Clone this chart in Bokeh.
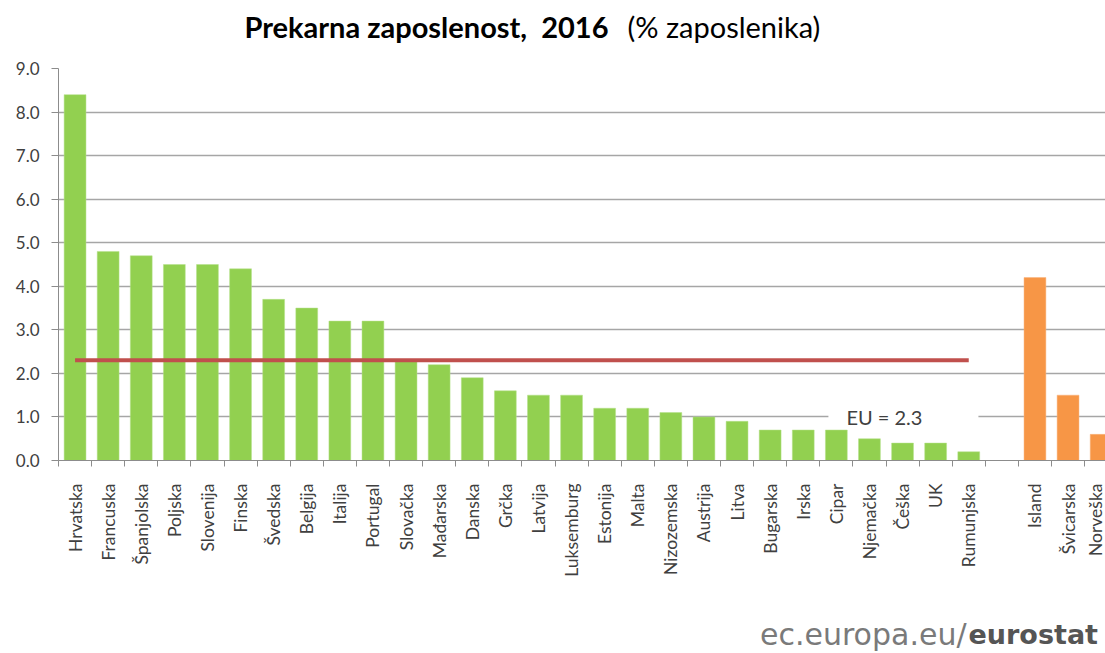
import math
from bokeh.plotting import figure
from bokeh.layouts import column
from bokeh.models import Range1d, FixedTicker, Label, NumeralTickFormatter
from bokeh.embed import file_html
from bokeh.resources import INLINE

# ---- data ----
eu_countries = ["Hrvatska", "Francuska", "Španjolska", "Poljska", "Slovenija", "Finska",
                "Švedska", "Belgija", "Italija", "Portugal", "Slovačka", "Mađarska",
                "Danska", "Grčka", "Latvija", "Luksemburg", "Estonija", "Malta",
                "Nizozemska", "Austrija", "Litva", "Bugarska", "Irska", "Cipar",
                "Njemačka", "Češka", "UK", "Rumunjska"]
eu_values = [8.4, 4.8, 4.7, 4.5, 4.5, 4.4, 3.7, 3.5, 3.2, 3.2, 2.3, 2.2, 1.9, 1.6,
             1.5, 1.5, 1.2, 1.2, 1.1, 1.0, 0.9, 0.7, 0.7, 0.7, 0.5, 0.4, 0.4, 0.2]
efta_countries = ["Island", "Švicarska", "Norveška"]
efta_values = [4.2, 1.5, 0.6]
eu_average = 2.3
y_ticks = [0, 1, 2, 3, 4, 5, 6, 7, 8, 9]

# category slot positions (one empty slot between the two groups)
eu_x = [i + 0.5 for i in range(len(eu_countries))]
efta_x = [len(eu_countries) + 1 + i + 0.5 for i in range(len(efta_countries))]
n_slots = len(eu_countries) + 1 + len(efta_countries)

GREEN = "#92D050"
ORANGE = "#F79646"
RED = "#C0504D"
GRID = "#A6A6A6"
TXT = "#404040"

W = 1105
TITLE_H, MAIN_H, FOOT_H = 50, 550, 53
LEFT = 58
slot_px = 33.1
frame_w = W - LEFT


def blank_fig(h):
    # frames in a column are aligned with the main plot's frame (LEFT .. W)
    f = figure(width=W, height=h, output_backend="svg", toolbar_location=None,
               x_range=Range1d(LEFT, W), y_range=Range1d(0, h),
               x_axis_location=None, y_axis_location=None,
               min_border=0, min_border_left=LEFT, title=None)
    f.outline_line_color = None
    f.grid.visible = False
    return f


# ---- title ----
t = blank_fig(TITLE_H)
t.add_layout(Label(x=608, y=TITLE_H - 26, text="Prekarna zaposlenost,\u00a0 2016",
                   text_align="right", text_baseline="middle",
                   text_font="Lato", text_font_style="bold", text_font_size="29px",
                   text_color="black"))
t.add_layout(Label(x=627, y=TITLE_H - 26, text="(% zaposlenika)",
                   text_align="left", text_baseline="middle",
                   text_font="Lato", text_font_size="29px", text_color="black"))

# ---- main chart ----
p = figure(width=W, height=MAIN_H, output_backend="svg", toolbar_location=None,
           x_range=Range1d(0, frame_w / slot_px), y_range=Range1d(0, 9),
           min_border_left=LEFT, min_border_right=0, min_border_top=68 - TITLE_H,
           min_border_bottom=MAIN_H - (460 - TITLE_H), title=None)
p.outline_line_color = None

p.vbar(x=eu_x, top=eu_values, width=0.66, color=GREEN, line_color="#B5E08A", line_width=0.5)
p.vbar(x=efta_x, top=efta_values, width=0.66, color=ORANGE, line_color="#F9B27C", line_width=0.5)
p.line(x=[eu_x[0], eu_x[-1]], y=[eu_average, eu_average], line_color=RED, line_width=4)

# y axis
p.yaxis.ticker = FixedTicker(ticks=y_ticks)
p.yaxis.formatter = NumeralTickFormatter(format="0.0")
p.yaxis.axis_line_color = "#8C8C8C"
p.yaxis.major_tick_line_color = "#8C8C8C"
p.yaxis.major_tick_out = 7
p.yaxis.major_tick_in = 0
p.yaxis.minor_tick_line_color = None
p.yaxis.major_label_standoff = 12
p.yaxis.major_label_text_font = "Lato"
p.yaxis.major_label_text_font_size = "17px"
p.yaxis.major_label_text_color = TXT
p.ygrid.grid_line_color = GRID
p.ygrid.grid_line_width = 1.5

# x axis
all_x = eu_x + efta_x
all_names = eu_countries + efta_countries
p.xaxis.ticker = FixedTicker(ticks=all_x, minor_ticks=list(range(0, n_slots + 1)))
p.xaxis.major_label_overrides = {x: n for x, n in zip(all_x, all_names)}
p.xaxis.major_label_orientation = math.pi / 2
p.xaxis.major_tick_line_color = None
p.xaxis.minor_tick_line_color = "#8C8C8C"
p.xaxis.minor_tick_out = 6
p.xaxis.minor_tick_in = 0
p.xaxis.axis_line_color = "#8C8C8C"
p.xaxis.major_label_standoff = 17
p.xaxis.major_label_text_font = "Lato"
p.xaxis.major_label_text_font_size = "17.5px"
p.xaxis.major_label_text_color = TXT
p.xgrid.grid_line_color = None

# EU label with white box interrupting the gridline
p.add_layout(Label(x=23.26, y=1.0, text="EU = 2.3", text_align="left", text_baseline="middle",
                   text_font="Lato", text_font_size="20px", text_color=TXT,
                   text_line_height=1.0, background_fill_color="white",
                   padding=dict(left=18, right=56, top=0, bottom=0)))

# ---- footer ----
f = blank_fig(FOOT_H)
f.add_layout(Label(x=966, y=FOOT_H - 34, text="ec.europa.eu/", text_align="right",
                   text_baseline="middle", text_font="DejaVu Sans", text_font_size="30px",
                   text_color="#7A7A7A"))
f.add_layout(Label(x=968, y=FOOT_H - 34, text="eurostat", text_align="left",
                   text_baseline="middle", text_font="DejaVu Sans", text_font_style="bold",
                   text_font_size="27px", text_color="#555555"))

layout = column(t, p, f, spacing=0)
open("out.html", "w").write(file_html(layout, INLINE))
